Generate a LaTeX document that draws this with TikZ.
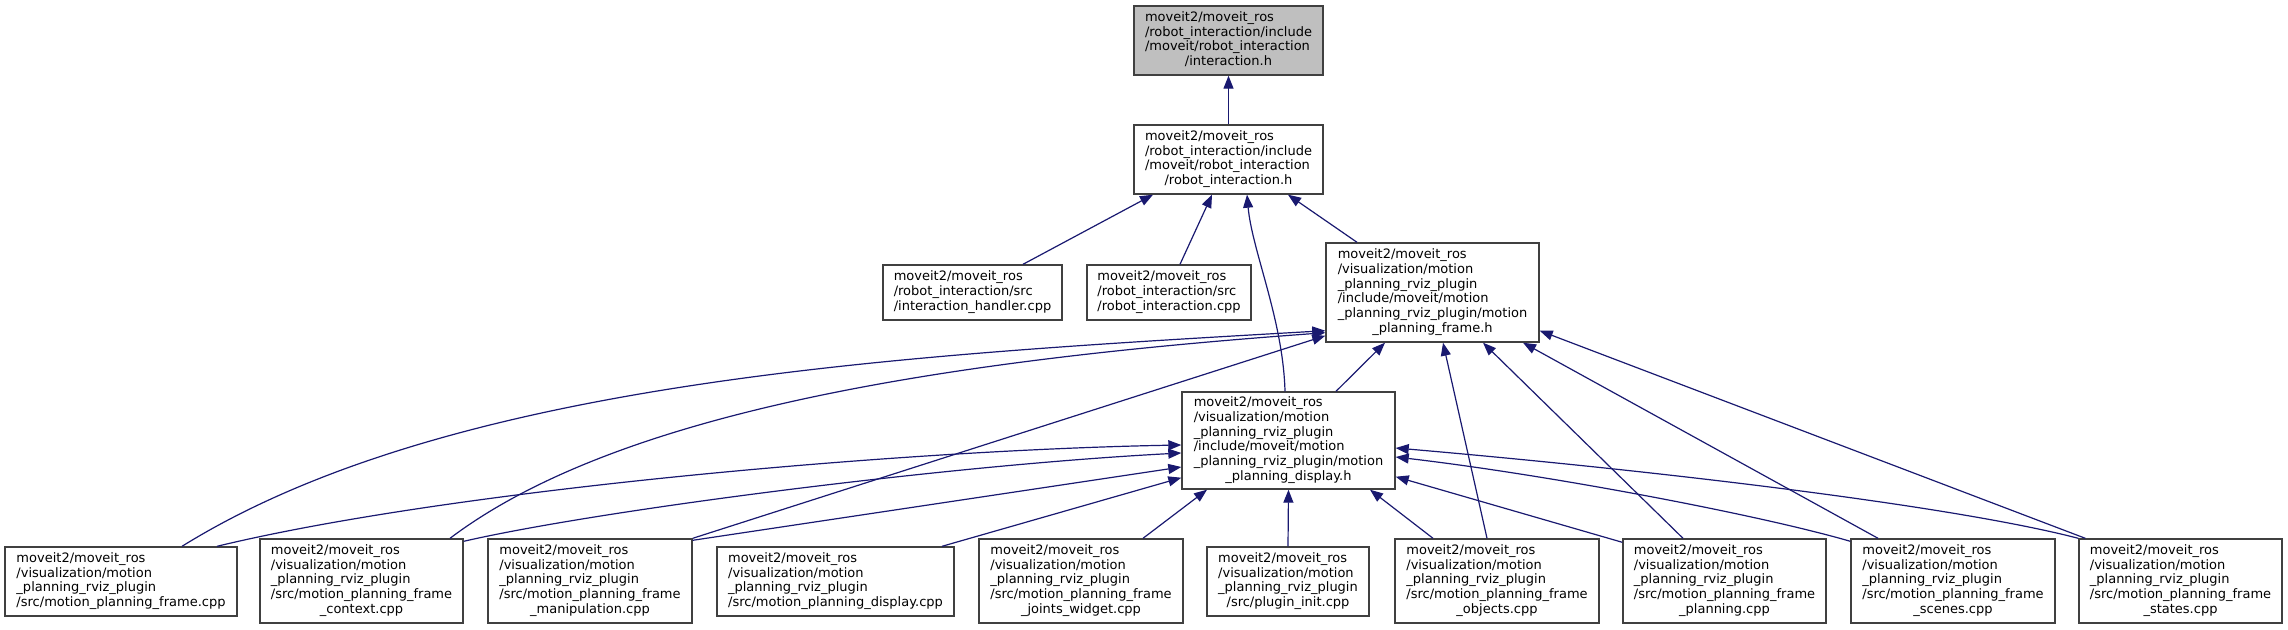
\documentclass[tikz,border=0pt]{standalone}
\usepackage{fontspec}
\setmainfont{DejaVu Sans}
\usetikzlibrary{arrows.meta}
\definecolor{edgeblue}{HTML}{191970}
\definecolor{boxgray}{HTML}{BFBFBF}
\definecolor{boxline}{HTML}{404040}
\newcommand{\boxtext}[2]{\begin{tabular}{@{}l@{}}#1\\\multicolumn{1}{@{}c@{}}{#2}\end{tabular}}
\begin{document}
\begin{tikzpicture}[x=1pt,y=-1pt,
  filebox/.style={draw=boxline, line width=1.4pt, fill=white, rectangle, inner sep=0pt,
    font=\fontsize{13}{14.7}\selectfont},
  edge/.style={draw=edgeblue, line width=1.2pt,
    -{Triangle[length=13pt,width=10pt,fill=edgeblue]}}]
\useasboundingbox (0,0) rectangle (2288,629);

\node[filebox, fill=boxgray, minimum width=189pt, minimum height=69pt] (top) at (1228.5,40.5)
  {\boxtext{moveit2/moveit\_ros\\/robot\_interaction/include\\/moveit/robot\_interaction}{/interaction.h}};
\node[filebox, minimum width=189pt, minimum height=69pt] (ri) at (1228.5,159.5)
  {\boxtext{moveit2/moveit\_ros\\/robot\_interaction/include\\/moveit/robot\_interaction}{/robot\_interaction.h}};
\node[filebox, minimum width=179pt, minimum height=55pt] (ih) at (972.5,292.5)
  {\boxtext{moveit2/moveit\_ros\\/robot\_interaction/src}{/interaction\_handler.cpp}};
\node[filebox, minimum width=164pt, minimum height=55pt] (ric) at (1169,292.5)
  {\boxtext{moveit2/moveit\_ros\\/robot\_interaction/src}{/robot\_interaction.cpp}};
\node[filebox, minimum width=213pt, minimum height=99pt] (fh) at (1432.5,292.5)
  {\boxtext{moveit2/moveit\_ros\\/visualization/motion\\\_planning\_rviz\_plugin\\/include/moveit/motion\\\_planning\_rviz\_plugin/motion}{\_planning\_frame.h}};
\node[filebox, minimum width=213pt, minimum height=97pt] (dh) at (1288.5,440.5)
  {\boxtext{moveit2/moveit\_ros\\/visualization/motion\\\_planning\_rviz\_plugin\\/include/moveit/motion\\\_planning\_rviz\_plugin/motion}{\_planning\_display.h}};

\node[filebox, minimum width=232pt, minimum height=69pt] (b1) at (121,581.5)
  {\boxtext{moveit2/moveit\_ros\\/visualization/motion\\\_planning\_rviz\_plugin}{/src/motion\_planning\_frame.cpp}};
\node[filebox, minimum width=203pt, minimum height=84pt] (b2) at (361.5,581)
  {\boxtext{moveit2/moveit\_ros\\/visualization/motion\\\_planning\_rviz\_plugin\\/src/motion\_planning\_frame}{\_context.cpp}};
\node[filebox, minimum width=204pt, minimum height=84pt] (b3) at (590,581)
  {\boxtext{moveit2/moveit\_ros\\/visualization/motion\\\_planning\_rviz\_plugin\\/src/motion\_planning\_frame}{\_manipulation.cpp}};
\node[filebox, minimum width=237pt, minimum height=69pt] (b4) at (835.5,581.5)
  {\boxtext{moveit2/moveit\_ros\\/visualization/motion\\\_planning\_rviz\_plugin}{/src/motion\_planning\_display.cpp}};
\node[filebox, minimum width=204pt, minimum height=84pt] (b5) at (1081,581)
  {\boxtext{moveit2/moveit\_ros\\/visualization/motion\\\_planning\_rviz\_plugin\\/src/motion\_planning\_frame}{\_joints\_widget.cpp}};
\node[filebox, minimum width=162pt, minimum height=69pt] (b6) at (1288,581.5)
  {\boxtext{moveit2/moveit\_ros\\/visualization/motion\\\_planning\_rviz\_plugin}{/src/plugin\_init.cpp}};
\node[filebox, minimum width=204pt, minimum height=84pt] (b7) at (1497,581)
  {\boxtext{moveit2/moveit\_ros\\/visualization/motion\\\_planning\_rviz\_plugin\\/src/motion\_planning\_frame}{\_objects.cpp}};
\node[filebox, minimum width=203pt, minimum height=84pt] (b8) at (1724.5,581)
  {\boxtext{moveit2/moveit\_ros\\/visualization/motion\\\_planning\_rviz\_plugin\\/src/motion\_planning\_frame}{\_planning.cpp}};
\node[filebox, minimum width=204pt, minimum height=84pt] (b9) at (1953,581)
  {\boxtext{moveit2/moveit\_ros\\/visualization/motion\\\_planning\_rviz\_plugin\\/src/motion\_planning\_frame}{\_scenes.cpp}};
\node[filebox, minimum width=203pt, minimum height=84pt] (b10) at (2180.5,581)
  {\boxtext{moveit2/moveit\_ros\\/visualization/motion\\\_planning\_rviz\_plugin\\/src/motion\_planning\_frame}{\_states.cpp}};

% edges to interaction.h / robot_interaction.h
\draw[edge] (ri.north) -- (top.south);
\draw[edge] ([xshift=50.5pt]ih.north) -- ([xshift=-75.5pt]ri.south);
\draw[edge] ([xshift=11pt]ric.north) -- ([xshift=-16.5pt]ri.south);
\draw[edge] ([xshift=-3.5pt]dh.north) .. controls +(-2,-72) and +(5,56) .. ([xshift=18.5pt]ri.south);
\draw[edge] ([xshift=-75.5pt]fh.north) -- ([xshift=59.5pt]ri.south);

% edges to motion_planning_frame.h
\draw[edge] ([xshift=47.5pt]dh.north) -- ([xshift=-47.5pt]fh.south);
\draw[edge] ([xshift=-10pt]b7.north) -- ([xshift=10.5pt]fh.south);
\draw[edge] ([xshift=-41.5pt]b8.north) -- ([xshift=50.5pt]fh.south);
\draw[edge] ([xshift=-75pt]b9.north) -- ([xshift=90.5pt]fh.south);
\draw[edge] ([xshift=7pt]b10.north west) -- ([yshift=12pt]fh.south east);
\draw[edge] ([xshift=61pt]b1.north) .. controls (450,380) and (900,355) .. ([yshift=12pt]fh.south west);
\draw[edge] ([xshift=88.5pt]b2.north) .. controls (620,410) and (950,360) .. ([yshift=10pt]fh.south west);
\draw[edge] (b3.north east) -- ([yshift=7pt]fh.south west);

% edges to motion_planning_display.h
\draw[edge] ([xshift=96pt]b1.north) .. controls (450,490) and (900,450) .. ([yshift=-4.5pt]dh.west);
\draw[edge] ([yshift=-3pt]b2.north east) .. controls (600,510) and (950,465) .. ([yshift=-12.5pt]dh.west);
\draw[edge] ([yshift=-2pt]b3.north east) -- ([yshift=-26.5pt]dh.west);
\draw[edge] ([xshift=106.5pt]b4.north) -- ([yshift=12pt]dh.south west);
\draw[edge] ([xshift=62pt]b5.north) -- ([xshift=-81.5pt]dh.south);
\draw[edge] (b6.north) -- (dh.south);
\draw[edge] ([xshift=-64pt]b7.north) -- ([xshift=81.5pt]dh.south);
\draw[edge] ([yshift=-4pt]b8.north west) -- ([yshift=13pt]dh.south east);
\draw[edge] ([yshift=-3pt]b9.north west) .. controls (1760,515) and (1550,475) .. ([yshift=-16.5pt]dh.east);
\draw[edge] (b10.north west) .. controls (1950,505) and (1650,470) .. ([yshift=-7.5pt]dh.east);
\end{tikzpicture}
\end{document}
